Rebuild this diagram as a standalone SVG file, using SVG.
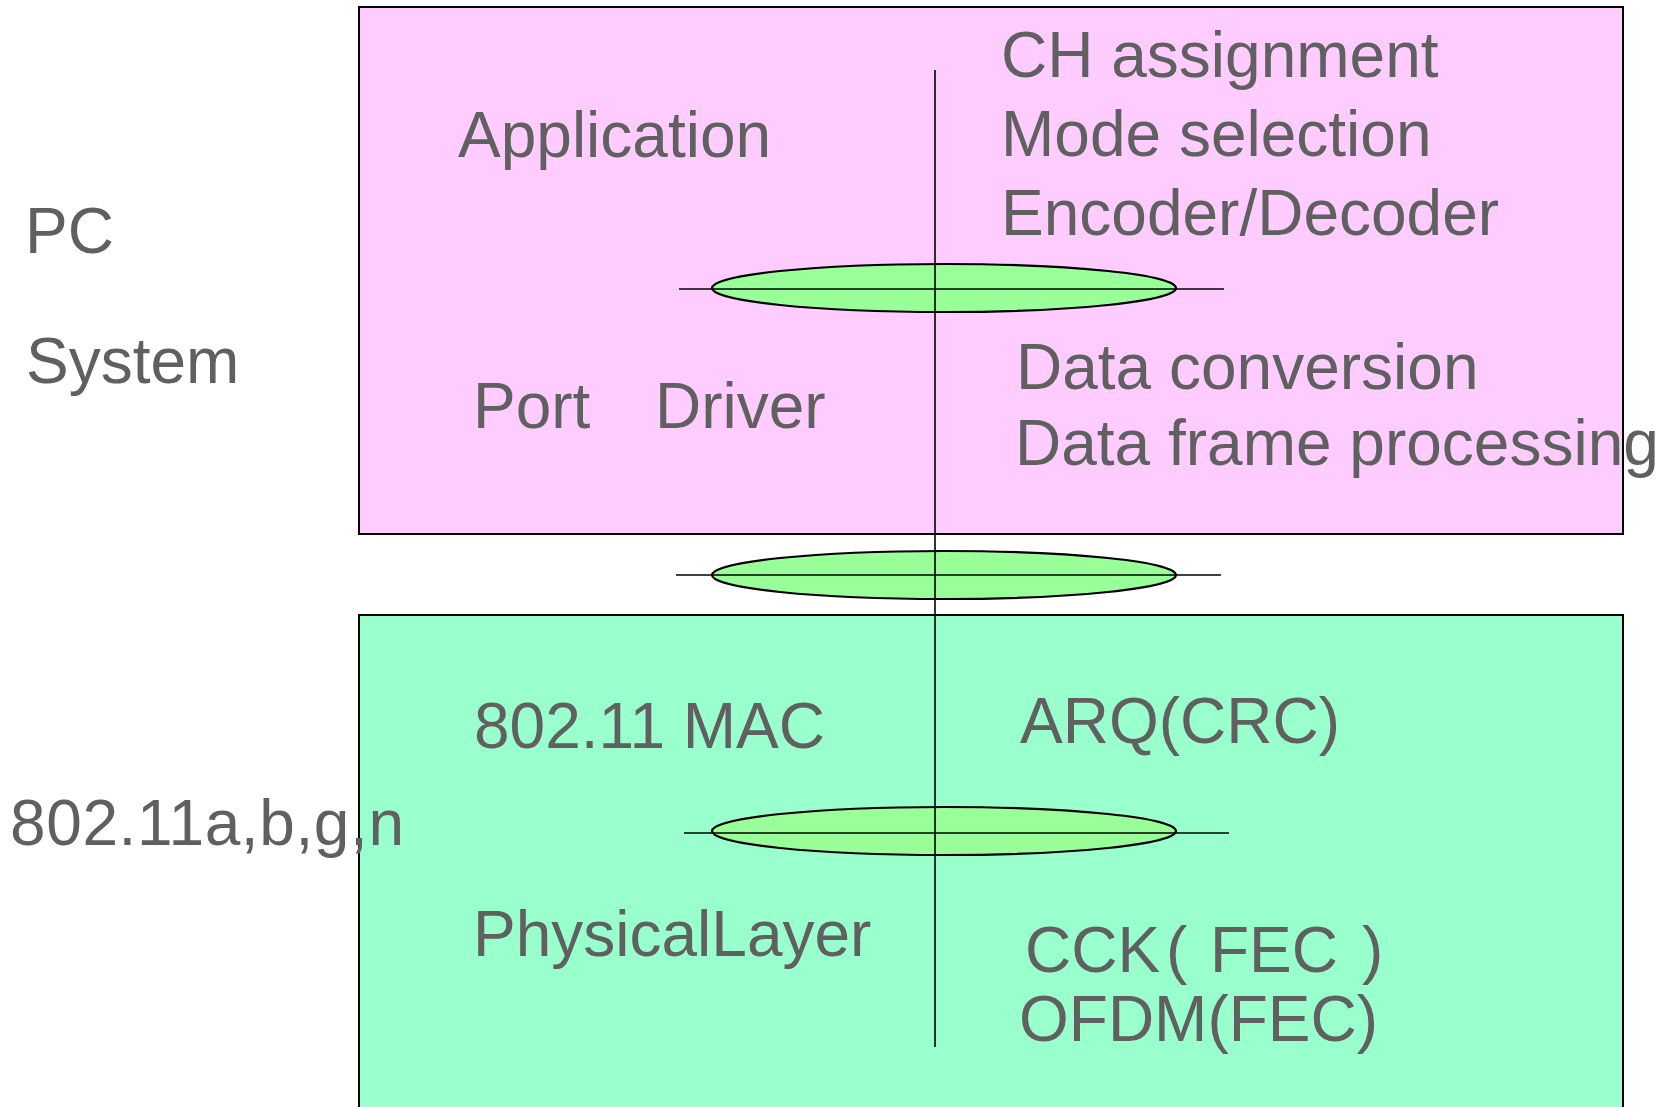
<svg xmlns="http://www.w3.org/2000/svg" width="1668" height="1107" viewBox="0 0 1668 1107">
<style>
  text { font-family: "Liberation Sans", Arial, sans-serif; font-size: 64px; fill: #606060; }
  .box { stroke: #000; stroke-width: 2; }
  .ell { fill: #99FF99; stroke: #000; stroke-width: 2.2; }
  .ln { stroke: #000; stroke-width: 1.6; fill: none; }
</style>
<rect width="1668" height="1107" fill="#ffffff"/>
<g id="pc-system">
  <rect class="box" x="359" y="7" width="1264" height="527" fill="#FFCCFF"/>
  <text x="458" y="157">Application</text>
  <text x="473" y="428">Port<tspan x="655">Driver</tspan></text>
  <text x="1001" y="77">CH assignment</text>
  <text x="1001" y="156">Mode selection</text>
  <text x="1001" y="235">Encoder/Decoder</text>
  <text x="1016" y="389">Data conversion</text>
  <text x="1015" y="465">Data frame processing</text>
</g>
<g id="wlan">
  <rect class="box" x="359" y="615" width="1264" height="520" fill="#99FFCC"/>
  <text x="474" y="748">802.11 MAC</text>
  <text x="473" y="956">PhysicalLayer</text>
  <text x="1020" y="743">ARQ(CRC)</text>
  <text x="1025" y="972">CCK<tspan x="1166">( </tspan><tspan x="1210">FEC </tspan><tspan x="1362">)</tspan></text>
  <text x="1019" y="1041">OFDM(FEC)</text>
</g>
<g id="labels">
  <text x="25" y="253">PC</text>
  <text x="26" y="383">System</text>
  <text x="10" y="845" textLength="394" lengthAdjust="spacing">802.11a,b,g,n</text>
</g>
<g id="interface-1">
  <ellipse class="ell" cx="944" cy="288" rx="232" ry="24"/>
</g>
<g id="interface-2">
  <ellipse class="ell" cx="944" cy="575" rx="232" ry="24"/>
</g>
<g id="interface-3">
  <ellipse class="ell" cx="944" cy="831" rx="232" ry="24"/>
</g>
<g id="connectors">
  <line class="ln" x1="935" y1="70" x2="935" y2="1047"/>
  <line class="ln" x1="679" y1="289" x2="1224" y2="289"/>
  <line class="ln" x1="676" y1="575" x2="1221" y2="575"/>
  <line class="ln" x1="684" y1="833" x2="1229" y2="833"/>
</g>
</svg>
